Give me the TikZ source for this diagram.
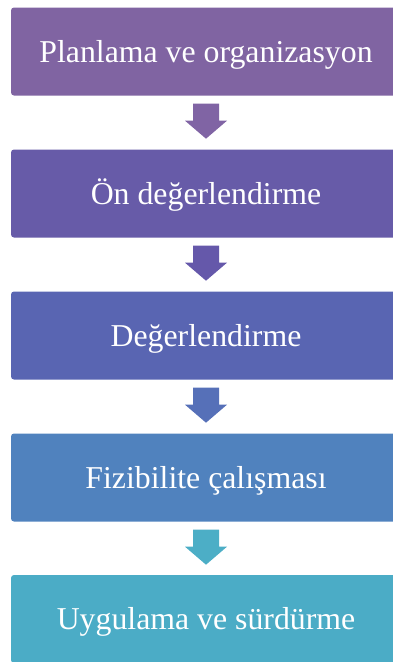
\documentclass[tikz,border=0pt]{standalone}
\usepackage{fontspec}
\setmainfont{Liberation Serif}
\usetikzlibrary{calc}
\definecolor{c1}{RGB}{128,100,162}
\definecolor{c2}{RGB}{103,91,168}
\definecolor{c3}{RGB}{89,101,178}
\definecolor{c4}{RGB}{80,130,190}
\definecolor{c5}{RGB}{75,172,198}
\definecolor{a1}{RGB}{128,100,164}
\definecolor{a2}{RGB}{101,88,170}
\definecolor{a3}{RGB}{86,112,184}
\definecolor{a4}{RGB}{76,174,198}
\tikzset{
  stage/.style={fill=#1, rounded corners=3pt, minimum width=390pt, minimum height=88pt, inner sep=0pt, text=white, text height=24pt, text depth=3pt, font=\fontsize{31.8}{36}\selectfont}
}
\newcommand{\blockarr}[2]{%
  \fill[#2] ($(#1)+(-13pt,-8pt)$) -- ($(#1)+(13pt,-8pt)$) -- ($(#1)+(13pt,-25pt)$) -- ($(#1)+(21pt,-25pt)$) -- ($(#1)+(0pt,-43pt)$) -- ($(#1)+(-21pt,-25pt)$) -- ($(#1)+(-13pt,-25pt)$) -- cycle;}
\begin{document}
\begin{tikzpicture}[x=1pt,y=1pt]
\useasboundingbox (0,0) rectangle (393,-662);
\clip (0,0) rectangle (393,-662);
\node[stage=c1] (b1) at (206,-51.5) {Planlama ve organizasyon};
\node[stage=c2] (b2) at (206,-193.5) {Ön değerlendirme};
\node[stage=c3] (b3) at (206,-335.5) {Değerlendirme};
\node[stage=c4] (b4) at (206,-477.5) {Fizibilite çalışması};
\node[stage=c5] (b5) at (206,-619) {Uygulama ve sürdürme};
\blockarr{b1.south}{a1}
\blockarr{b2.south}{a2}
\blockarr{b3.south}{a3}
\blockarr{b4.south}{a4}
\end{tikzpicture}
\end{document}
